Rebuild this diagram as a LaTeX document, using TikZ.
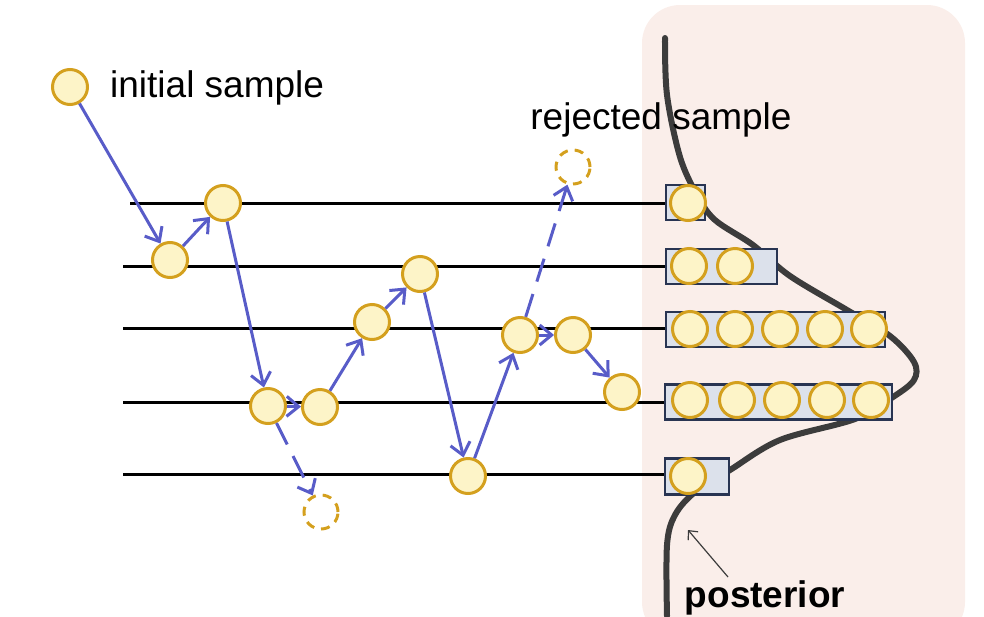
\documentclass[tikz,border=0pt]{standalone}
\usepackage{fontspec}
\setmainfont{Liberation Sans}
\usetikzlibrary{arrows.meta}
\definecolor{pinkbg}{RGB}{250,238,234}
\definecolor{smpfill}{RGB}{253,244,200}
\definecolor{smpdraw}{RGB}{212,160,30}
\definecolor{arrblue}{RGB}{88,92,200}
\definecolor{boxfill}{RGB}{220,225,235}
\definecolor{boxdraw}{RGB}{40,52,82}
\definecolor{curvegray}{RGB}{60,60,60}
\tikzset{
  smp/.style={circle, minimum size=35pt, inner sep=0pt, fill=smpfill, draw=smpdraw, line width=3pt},
  rej/.style={circle, minimum size=34pt, inner sep=0pt, draw=smpdraw, line width=3pt, dash pattern=on 9pt off 7pt},
  mv/.style={draw=arrblue, line width=3pt, -{Straight Barb[length=12pt,width=20pt]}},
  mvdash/.style={mv, dash pattern=on 24pt off 13pt},
  level/.style={draw=black, line width=3pt},
  hist/.style={draw=boxdraw, fill=boxfill, line width=2.2pt, inner sep=0pt},
  lbl/.style={font=\fontsize{37}{40}\selectfont, inner sep=0pt}
}
\begin{document}
\begin{tikzpicture}[x=1pt,y=-1pt]
\useasboundingbox (0,0) rectangle (984,616);
\fill[pinkbg, rounded corners=38pt] (642,5) rectangle (965,640);

% posterior curve
\draw[curvegray, line width=6pt, line cap=round] plot[smooth, tension=0.55] coordinates {
 (665,38) (667,95) (680,157) (697,195) (715,220) (753,245) (790,276) (847,310) (890,336) (914,362) (914,380) (893,397) (855,419) (780,440) (730,470) (695,492) (675,515) (667,545) (667,616)};

% histogram boxes
\node[hist, minimum width=39pt, minimum height=35pt] (b1) at (685.5,202.5) {};
\node[hist, minimum width=111pt, minimum height=35pt] (b2) at (721.5,266.5) {};
\node[hist, minimum width=219pt, minimum height=35pt] (b3) at (775.5,329.5) {};
\node[hist, minimum width=227pt, minimum height=35pt] (b4) at (778.5,402) {};
\node[hist, minimum width=64pt, minimum height=36pt] (b5) at (697,476.5) {};

\node[smp] at (688,203) {};
\node[smp] at (689,266) {};
\node[smp] at (735,266) {};
\foreach \x in {690,735,780,825,869} \node[smp] at (\x,329) {};
\foreach \x in {690,737,782,827,871} \node[smp] at (\x,400) {};
\node[smp] at (688,476) {};

% level lines
\coordinate (l1) at (130,203);
\coordinate (l2) at (123,266);
\coordinate (l3) at (123,328);
\coordinate (l4) at (123,402);
\coordinate (l5) at (123,474);
\draw[level] (l1) -- (b1.west |- l1);
\draw[level] (l2) -- (b2.west |- l2);
\draw[level] (l3) -- (b3.west |- l3);
\draw[level] (l4) -- (b4.west |- l4);
\draw[level] (l5) -- (b5.west |- l5);

% samples
\node[smp] (c0) at (70,87) {};
\node[smp] (c1) at (170,260) {};
\node[smp] (c2) at (223,203) {};
\node[smp] (c3) at (268,406) {};
\node[smp] (c4) at (320,407) {};
\node[smp] (c5) at (372,322) {};
\node[smp] (c6) at (420,274) {};
\node[smp] (c7) at (468,476) {};
\node[smp] (c8) at (520,335) {};
\node[smp] (c9) at (573,335) {};
\node[smp] (c10) at (622,392) {};
\node[rej] (r1) at (321,512) {};
\node[rej] (r2) at (573,167) {};

% moves
\draw[mv] (c0) -- (c1);
\draw[mv] (c1) -- (c2);
\draw[mv] (c2) -- (c3);
\draw[mv] (c3) -- (c4);
\draw[mvdash] (c3) -- (r1);
\draw[mv] (c4) -- (c5);
\draw[mv] (c5) -- (c6);
\draw[mv] (c6) -- (c7);
\draw[mv] (c7) -- (c8);
\draw[mv] (c8) -- (c9);
\draw[mvdash] (c8) -- (r2);
\draw[mv] (c9) -- (c10);

% labels
\node[lbl, anchor=west] (tinit) at (110,88) {initial sample};
\node[lbl] (trej) at (661,120) {rejected sample};
\node[lbl, font=\fontsize{37}{40}\selectfont\bfseries] (tpost) at (765,598) {posterior};
\coordinate (ptip) at (688,530);
\draw[curvegray, line width=1.2pt, -{Straight Barb[length=7pt,width=13pt]}] (728,577) -- (ptip);
\end{tikzpicture}
\end{document}
